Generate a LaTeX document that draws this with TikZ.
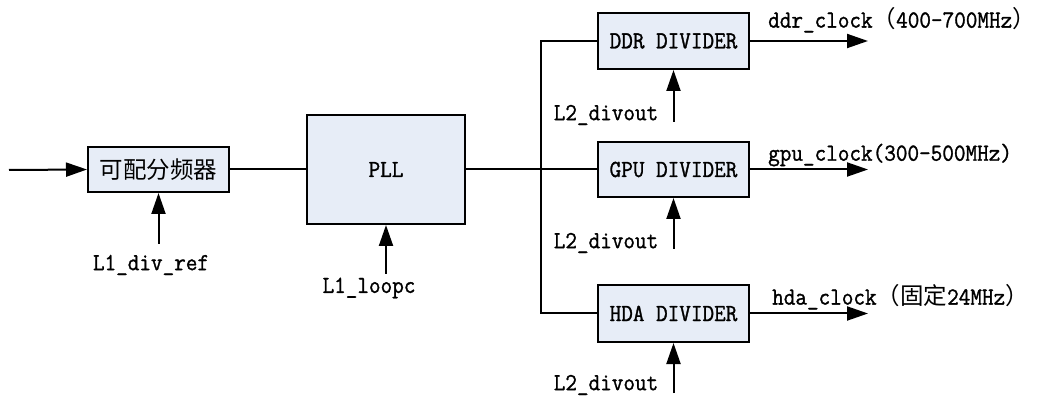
\documentclass[tikz,border=0pt]{standalone}
\usepackage{fontspec}
\newfontfamily\cjkfam{Noto Sans CJK SC}
\newfontfamily\monofam[FakeStretch=0.92,FakeBold=1.2]{Latin Modern Mono}
\usetikzlibrary{arrows.meta}
\definecolor{boxfill}{RGB}{231,237,247}
\newcommand\dtxt{\monofam\fontsize{24.5}{28}\selectfont}
\newcommand\cjkf{\cjkfam\fontsize{23.5}{26}\selectfont}
\begin{document}
\begin{tikzpicture}[x=1pt,y=-1pt,
  blk/.style={draw, line width=2pt, fill=boxfill, inner sep=0pt, font=\dtxt},
  lbl/.style={inner sep=0pt, font=\dtxt},
  wire/.style={line width=2pt},
  arr/.style={wire, -{Triangle[length=21pt,width=14pt]}}]
\useasboundingbox (0,0) rectangle (1037,398);
% blocks
\node[blk, minimum width=141pt, minimum height=45pt] (div) at (158.5,169.5) {\cjkf 可配分频器};
\node[blk, minimum width=158pt, minimum height=109pt] (pll) at (386,169.5) {PLL};
\node[blk, minimum width=151pt, minimum height=56pt] (ddr) at (673.5,41) {DDR DIVIDER};
\node[blk, minimum width=151pt, minimum height=55pt] (gpu) at (673.5,169.5) {GPU DIVIDER};
\node[blk, minimum width=151pt, minimum height=57pt] (hda) at (673.5,313.5) {HDA DIVIDER};
% labels
\node[lbl] (ldr) at (151,265) {L1\_div\_ref};
\node[lbl] (llp) at (369,288) {L1\_loopc};
\node[lbl] (l2a) at (606,115) {L2\_divout};
\node[lbl] (l2b) at (606,243) {L2\_divout};
\node[lbl] (l2c) at (606,385) {L2\_divout};
\node[lbl, anchor=west] (ddrl) at (768,20) {ddr\_clock{\cjkf （}400-700MHz{\cjkf ）}};
\node[lbl, anchor=west] (gpul) at (768,155) {gpu\_clock(300-500MHz)};
\node[lbl, anchor=west] (hdal) at (772,297) {hda\_clock{\cjkf （固定}24MHz{\cjkf ）}};
% free ends
\coordinate (src) at (9,170);
\coordinate (t1) at (158.5,244);
\coordinate (t2) at (386,274);
\coordinate (bus) at (541,169.5);
\coordinate (a1) at (673.5,122);
\coordinate (a2) at (673.5,249);
\coordinate (a3) at (673.5,393);
\coordinate (o1) at (868,41);
\coordinate (o2) at (868,169.5);
\coordinate (o3) at (868,313.5);
% connectors
\draw[arr] (src) -- (div.west);
\draw[wire] (div.east) -- (pll.west);
\draw[arr] (t1) -- (div.south);
\draw[arr] (t2) -- (pll.south);
\draw[wire] (pll.east) -- (gpu.west);
\draw[wire] (ddr.west) -| (bus) |- (hda.west);
\draw[arr] (a1) -- (ddr.south);
\draw[arr] (a2) -- (gpu.south);
\draw[arr] (a3) -- (hda.south);
\draw[arr] (ddr.east) -- (o1);
\draw[arr] (gpu.east) -- (o2);
\draw[arr] (hda.east) -- (o3);
\end{tikzpicture}
\end{document}
